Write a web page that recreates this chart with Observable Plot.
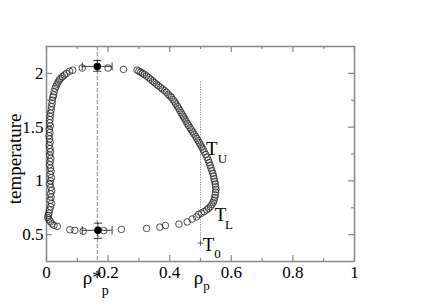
<!DOCTYPE html>
<html><head><meta charset="utf-8">
<script src="https://cdn.jsdelivr.net/npm/d3@7"></script>
<script src="https://cdn.jsdelivr.net/npm/@observablehq/plot@0.6"></script>
<style>body{margin:0;background:#fff} svg text{font-family:"Liberation Serif","Times New Roman",serif}</style>
</head><body><div id="chart"></div>
<script>
// left (dilute) branch of coexistence curve
const leftX = [0.085,0.075,0.065,0.058,0.052,0.047,0.042,0.038,0.034,0.031,0.028,0.025,0.023,0.021,0.019,0.018,0.016,0.015,0.013,0.012,0.011,0.010,0.012,0.009,0.011,0.008,0.010,0.012,0.009,0.011,0.013,0.010,0.014,0.012,0.010,0.013,0.015,0.012,0.016,0.013,0.011,0.014,0.017,0.013,0.015,0.012,0.016,0.013,0.010,0.008,0.006,0.004,0.008,0.013,0.018,0.024,0.035];
const leftT = [2.03,2.02,2.00,1.985,1.97,1.955,1.94,1.92,1.90,1.88,1.86,1.83,1.80,1.78,1.75,1.72,1.69,1.66,1.63,1.60,1.57,1.54,1.51,1.48,1.45,1.42,1.39,1.36,1.33,1.30,1.27,1.24,1.21,1.18,1.15,1.12,1.09,1.06,1.03,1.00,0.97,0.94,0.91,0.88,0.85,0.82,0.79,0.76,0.73,0.70,0.68,0.66,0.64,0.62,0.60,0.586,0.577];
// right (dense) branch
const rightX = [0.25,0.294,0.30,0.306,0.312,0.318,0.325,0.332,0.338,0.345,0.35,0.357,0.363,0.37,0.376,0.383,0.389,0.395,0.401,0.406,0.411,0.416,0.42,0.425,0.429,0.433,0.437,0.441,0.445,0.449,0.453,0.457,0.461,0.466,0.47,0.475,0.479,0.484,0.488,0.492,0.496,0.50,0.504,0.508,0.512,0.517,0.521,0.525,0.528,0.531,0.534,0.537,0.54,0.542,0.544,0.546,0.548,0.549,0.55,0.549,0.548,0.546,0.544,0.541,0.537,0.532,0.526,0.52,0.512,0.503,0.494,0.487];
const rightT = [2.037,2.03,2.02,2.01,2.00,1.99,1.975,1.96,1.945,1.93,1.915,1.90,1.885,1.87,1.855,1.84,1.825,1.805,1.79,1.775,1.755,1.735,1.715,1.695,1.675,1.655,1.635,1.615,1.595,1.575,1.555,1.535,1.515,1.495,1.475,1.455,1.435,1.415,1.395,1.375,1.355,1.335,1.315,1.295,1.27,1.245,1.22,1.195,1.17,1.145,1.12,1.095,1.07,1.045,1.02,0.995,0.97,0.945,0.92,0.895,0.87,0.845,0.82,0.80,0.78,0.76,0.745,0.73,0.715,0.70,0.688,0.665];
// low-temperature row
const lowX = [0.473,0.457,0.43,0.386,0.368,0.325,0.243,0.186,0.119,0.092,0.076];
const lowT = [0.645,0.618,0.598,0.585,0.57,0.558,0.549,0.537,0.532,0.54,0.545];
// top row near the upper critical point
const topX = [0.116,0.20];
const topT = [2.05,2.05];
// critical points with error bars
const critX = [0.165,0.167];
const critT = [2.065,0.54];
const critXLo = [0.116,0.116];
const critXHi = [0.213,0.213];
const critTLo = [2.02,0.465];
const critTHi = [2.12,0.607];
// reference lines
const rhoStar = [0.165];
const rhoP = [0.5];
const rhoPT = [0.42, 1.925];
// ticks
const xLabels = [0,0.2,0.4,0.6,0.8,1];
const xMinor = [0.1,0.3,0.5,0.7,0.9];
const yLabels = [0.5,1,1.5,2];
const yMinor = [0.75,1.25,1.75];
// annotations
const annT = ["T","T","T"];
const annTX = [0.537,0.565,0.526];
const annTY = [1.293,0.688,0.409];
const annSub = ["U","L","0"];
const annSubX = [0.5714,0.5925,0.555];
const annSubY = [1.209,0.595,0.321];

const pts = (xs, ts) => xs.map((x, i) => ({x, t: ts[i]}));
const W = 436, H = 308, mL = 46, mR = 82, mT = 46, mB = 47;
const fw = W - mL - mR, fh = H - mT - mB;
const vbar = {draw(ctx){ctx.moveTo(0,-4);ctx.lineTo(0,4);}};
const hbar = {draw(ctx){ctx.moveTo(-4,0);ctx.lineTo(4,0);}};
const crit = critX.map((x,i)=>({x,t:critT[i],xlo:critXLo[i],xhi:critXHi[i],tlo:critTLo[i],thi:critTHi[i]}));
const serif = "'Liberation Serif', 'Times New Roman', serif";
const fmt = d => String(d);

const chart = Plot.plot({
  width: W, height: H,
  marginLeft: mL, marginRight: mR, marginTop: mT, marginBottom: mB,
  x: {domain: [0, 1], axis: null},
  y: {domain: [0.25, 2.25], axis: null},
  style: {fontFamily: serif, fontSize: "17px", background: "#fff", color: "#000"},
  marks: [
    Plot.ruleX(rhoStar, {x: d => d, stroke: "#888", strokeDasharray: "4,2", strokeWidth: 1}),
    Plot.ruleX(rhoP, {x: d => d, y1: rhoPT[0], y2: rhoPT[1], stroke: "#777", strokeDasharray: "1,1.5", strokeWidth: 1}),
    Plot.dot(rhoP, {x: d => d, y: rhoPT[0], symbol: "plus", r: 2, stroke: "#444", strokeWidth: 0.8}),
    // ticks (inward)
    Plot.tickX(xLabels, {x: d => d, insetTop: fh - 6, stroke: "#888", strokeWidth: 1.2}),
    Plot.tickX(xMinor, {x: d => d, insetTop: fh - 3, stroke: "#888", strokeWidth: 1.2}),
    Plot.tickX(xLabels, {x: d => d, insetBottom: fh - 6, stroke: "#888", strokeWidth: 1.2}),
    Plot.tickX(xMinor, {x: d => d, insetBottom: fh - 3, stroke: "#888", strokeWidth: 1.2}),
    Plot.tickY(yLabels, {y: d => d, insetRight: fw - 6, stroke: "#888", strokeWidth: 1.2}),
    Plot.tickY(yMinor, {y: d => d, insetRight: fw - 3, stroke: "#888", strokeWidth: 1.2}),
    Plot.tickY(yLabels, {y: d => d, insetLeft: fw - 6, stroke: "#888", strokeWidth: 1.2}),
    Plot.tickY(yMinor, {y: d => d, insetLeft: fw - 3, stroke: "#888", strokeWidth: 1.2}),
    Plot.frame({stroke: "#888", strokeWidth: 1.5}),
    Plot.axisX({ticks: xLabels, tickSize: 0, tickPadding: 4, tickFormat: fmt, fontSize: 17, fontFamily: serif, fontVariant: "normal", label: null}),
    Plot.axisY({ticks: yLabels, tickSize: 0, tickPadding: 3, tickFormat: fmt, fontSize: 17, fontFamily: serif, fontVariant: "normal", label: null}),
    // data
    Plot.dot(pts(leftX, leftT), {x: "x", y: "t", r: 3.3, stroke: "#222", strokeWidth: 0.8, fill: "none"}),
    Plot.dot(pts(rightX, rightT), {x: "x", y: "t", r: 3.3, stroke: "#222", strokeWidth: 0.8, fill: "none"}),
    Plot.dot(pts(lowX, lowT), {x: "x", y: "t", r: 3.3, stroke: "#222", strokeWidth: 0.8, fill: "none"}),
    Plot.dot(pts(topX, topT), {x: "x", y: "t", r: 3.3, stroke: "#222", strokeWidth: 0.8, fill: "none"}),
    // error bars
    Plot.ruleY(crit, {y: "t", x1: "xlo", x2: "xhi", stroke: "#222", strokeWidth: 0.9}),
    Plot.ruleX(crit, {x: "x", y1: "tlo", y2: "thi", stroke: "#222", strokeWidth: 0.9}),
    Plot.dot(crit, {x: "xlo", y: "t", symbol: vbar, stroke: "#222", strokeWidth: 0.9}),
    Plot.dot(crit, {x: "xhi", y: "t", symbol: vbar, stroke: "#222", strokeWidth: 0.9}),
    Plot.dot(crit, {x: "x", y: "tlo", symbol: hbar, stroke: "#222", strokeWidth: 0.9}),
    Plot.dot(crit, {x: "x", y: "thi", symbol: hbar, stroke: "#222", strokeWidth: 0.9}),
    Plot.dot(crit, {x: "x", y: "t", r: 3, fill: "#000", stroke: "#000"}),
    // annotations
    Plot.text(annT, {x: (d,i) => annTX[i], y: (d,i) => annTY[i], text: d => d, fontSize: 19, fontFamily: serif}),
    Plot.text(annSub, {x: (d,i) => annSubX[i], y: (d,i) => annSubY[i], text: d => d, fontSize: 13, fontFamily: serif}),
    Plot.text(["ρ*"], {x: rhoStar[0], frameAnchor: "bottom", dy: 22, dx: -5, text: d => d, fontSize: 19, fontFamily: serif}),
    Plot.text(["p"], {x: rhoStar[0], frameAnchor: "bottom", dy: 33, dx: 8, text: d => d, fontSize: 14, fontFamily: serif}),
    Plot.text(["ρ"], {x: rhoP[0], frameAnchor: "bottom", dy: 22, dx: -2, text: d => d, fontSize: 19, fontFamily: serif}),
    Plot.text(["p"], {x: rhoP[0], frameAnchor: "bottom", dy: 28, dx: 6, text: d => d, fontSize: 13, fontFamily: serif}),
    Plot.text(["temperature"], {frameAnchor: "left", y: 1.205, dx: -32, rotate: -90, textAnchor: "middle", text: d => d, fontSize: 19, fontFamily: serif})
  ]
});
document.getElementById("chart").appendChild(chart);
</script></body></html>
